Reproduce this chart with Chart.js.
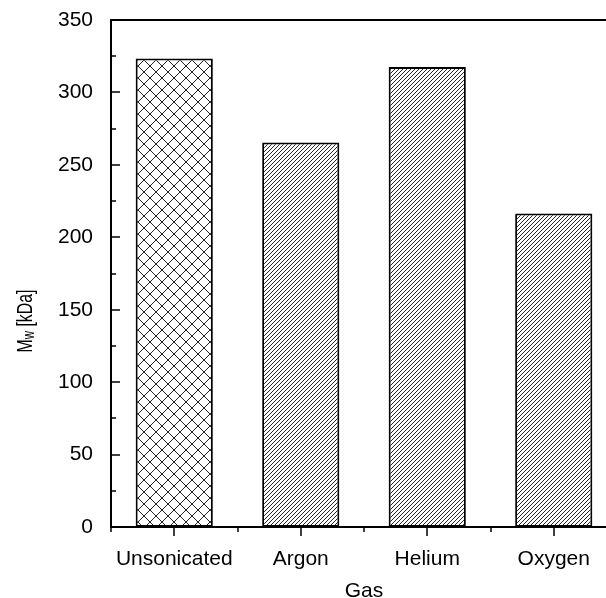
<!DOCTYPE html>
<html><head><meta charset="utf-8">
<script src="https://cdn.jsdelivr.net/npm/chart.js@4/dist/chart.umd.min.js"></script>
<style>
html,body{margin:0;padding:0;overflow:hidden;background:#fff;width:606px;height:598px}
#wrap{width:606px;height:598px;overflow:hidden;position:relative}
#c{position:absolute;left:0;top:0}
</style></head>
<body><div id="wrap"><canvas id="c" width="640" height="598"></canvas></div>
<script>
// ---- data ----
const categories = ['Unsonicated', 'Argon', 'Helium', 'Oxygen'];
const mwValues = [323.5, 265.5, 317.5, 216.5];
const yTicks = [0, 50, 100, 150, 200, 250, 300, 350];
const yMinorTicks = [25, 75, 125, 175, 225, 275, 325];
const patternKinds = ['cross', 'diag', 'diag', 'diag'];
const yTitleMain = 'M', yTitleSub = 'w', yTitleRest = ' [kDa]';
const xTitle = 'Gas';

const FONT = '"Liberation Sans", Arial, Helvetica, sans-serif';

function makePattern(kind) {
  const size = kind === 'cross' ? 12 : 4;
  const c = document.createElement('canvas');
  c.width = size; c.height = size;
  const g = c.getContext('2d');
  g.fillStyle = '#fff'; g.fillRect(0, 0, size, size);
  g.strokeStyle = '#222'; g.lineWidth = 1;
  g.beginPath();
  g.moveTo(-1, size + 1); g.lineTo(size + 1, -1);
  g.moveTo(-1, 1); g.lineTo(1, -1);
  g.moveTo(size - 1, size + 1); g.lineTo(size + 1, size - 1);
  if (kind === 'cross') {
    g.moveTo(-1, -1); g.lineTo(size + 1, size + 1);
    g.moveTo(size - 1, -1); g.lineTo(size + 1, 1);
    g.moveTo(-1, size - 1); g.lineTo(1, size + 1);
  }
  g.stroke();
  return g.createPattern(c, 'repeat');
}

const axesPlugin = {
  id: 'axesPlugin',
  afterDatasetsDraw(chart) {
    const { ctx, chartArea: a, scales: { x, y } } = chart;
    ctx.save();
    ctx.strokeStyle = '#000';
    ctx.lineWidth = 2;
    ctx.beginPath();
    ctx.moveTo(a.left, a.top); ctx.lineTo(a.left, a.bottom);
    ctx.moveTo(a.left - 1, a.bottom); ctx.lineTo(a.right, a.bottom);
    ctx.moveTo(a.left - 1, a.top); ctx.lineTo(a.right, a.top);
    ctx.stroke();
    ctx.lineWidth = 1.5;
    ctx.beginPath();
    yTicks.forEach(v => { const py = Math.round(y.getPixelForValue(v)); ctx.moveTo(a.left, py); ctx.lineTo(a.left + 9, py); });
    yMinorTicks.forEach(v => { const py = Math.round(y.getPixelForValue(v)); ctx.moveTo(a.left, py); ctx.lineTo(a.left + 5, py); });
    categories.forEach((c, i) => {
      const px = Math.round(x.getPixelForValue(i));
      ctx.moveTo(px, a.bottom); ctx.lineTo(px, a.bottom + 9);
      const bx = Math.round(x.getPixelForValue(i - 0.5));
      ctx.moveTo(bx, a.bottom); ctx.lineTo(bx, a.bottom + 5);
    });
    ctx.stroke();

    // y axis title with subscript
    ctx.fillStyle = '#000';
    ctx.translate(31.5, 321);
    ctx.rotate(-Math.PI / 2);
    ctx.scale(0.72, 1);
    ctx.textBaseline = 'alphabetic';
    ctx.textAlign = 'left';
    const fMain = '22px ' + FONT, fSub = '16px ' + FONT;
    ctx.font = fMain; const wM = ctx.measureText(yTitleMain).width; const wR = ctx.measureText(yTitleRest).width;
    ctx.font = fSub; const wS = ctx.measureText(yTitleSub).width;
    let x0 = -(wM + wS + wR) / 2;
    ctx.font = fMain; ctx.fillText(yTitleMain, x0, 0);
    ctx.font = fSub; ctx.fillText(yTitleSub, x0 + wM, 2);
    ctx.font = fMain; ctx.fillText(yTitleRest, x0 + wM + wS, 0);
    ctx.restore();
  }
};

new Chart(document.getElementById('c'), {
  type: 'bar',
  data: {
    labels: categories,
    datasets: [{
      data: mwValues,
      backgroundColor: patternKinds.map(makePattern),
      borderColor: '#000',
      borderWidth: 2,
      borderSkipped: false,
      barPercentage: 0.61,
      categoryPercentage: 1
    }]
  },
  options: {
    responsive: false,
    devicePixelRatio: 1,
    animation: false,
    layout: { padding: { top: 20, right: 23, left: 0, bottom: 0 } },
    plugins: { legend: { display: false }, tooltip: { enabled: false } },
    scales: {
      x: {
        grid: { display: false, drawTicks: false, tickLength: 0 },
        border: { display: false },
        ticks: { color: '#000', font: { family: FONT, size: 21 }, padding: 20, maxRotation: 0, autoSkip: false },
        title: { display: true, text: xTitle, color: '#000', font: { family: FONT, size: 21, lineHeight: 1 }, padding: { top: 0, bottom: -4 } },
        afterFit(s) { s.height = 71; s.paddingLeft = 0; s.paddingRight = 0; }
      },
      y: {
        min: 0, max: 350,
        grid: { display: false, drawTicks: false, tickLength: 0 },
        border: { display: false },
        ticks: { color: '#000', font: { family: FONT, size: 21 }, padding: 18 },
        afterBuildTicks(s) { s.ticks = yTicks.map(v => ({ value: v })); },
        afterFit(s) { s.width = 111; s.paddingTop = 0; s.paddingBottom = 0; }
      }
    }
  },
  plugins: [axesPlugin]
});
</script>
</body></html>
